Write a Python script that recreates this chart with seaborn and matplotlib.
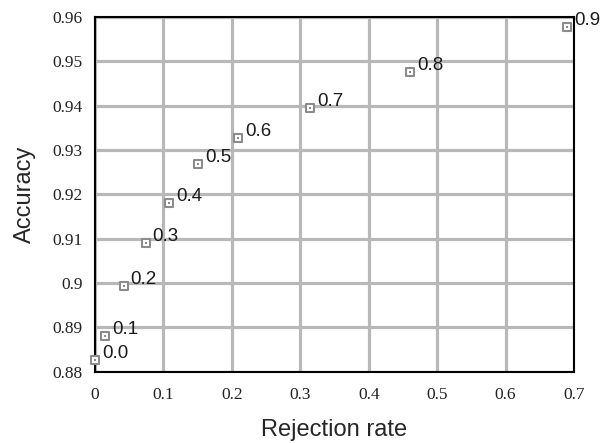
import numpy as np
import pandas as pd
import matplotlib
matplotlib.use('Agg')
import matplotlib.pyplot as plt
import seaborn as sns

# values
thresholds = ["0.0", "0.1", "0.2", "0.3", "0.4", "0.5", "0.6", "0.7", "0.8", "0.9"]
rejection_rate = [0.0, 0.015, 0.042, 0.074, 0.108, 0.151, 0.209, 0.314, 0.460, 0.690]
accuracy = [0.8825, 0.8881, 0.8992, 0.9089, 0.9180, 0.9268, 0.9327, 0.9395, 0.9475, 0.9578]
x_ticks = [0, 0.1, 0.2, 0.3, 0.4, 0.5, 0.6, 0.7]
x_ticklabels = ["0", "0.1", "0.2", "0.3", "0.4", "0.5", "0.6", "0.7"]
y_ticks = [0.88, 0.89, 0.90, 0.91, 0.92, 0.93, 0.94, 0.95, 0.96]
y_ticklabels = ["0.88", "0.89", "0.9", "0.91", "0.92", "0.93", "0.94", "0.95", "0.96"]

df = pd.DataFrame({"rate": rejection_rate, "acc": accuracy, "thr": thresholds})

sns.set_style("white")
fig = plt.figure(figsize=(6.03, 4.43), dpi=100)
ax = fig.add_axes([95 / 603, 1 - 371.5 / 443, 479 / 603, 354.5 / 443])

# hollow grey squares with a small dot in the middle
sns.scatterplot(data=df, x="rate", y="acc", marker="s", s=40,
                facecolor="white", edgecolor="#8c8c8c", linewidth=1.5,
                ax=ax, zorder=3, clip_on=False)
sns.scatterplot(data=df, x="rate", y="acc", marker="s", s=2,
                color="#8c8c8c", linewidth=0, ax=ax, zorder=4, clip_on=False)

for _, row in df.iterrows():
    ax.annotate(row["thr"], (row["rate"], row["acc"]), xytext=(7, 2),
                textcoords="offset pixels", ha="left", va="baseline",
                fontsize=13.5, family="Liberation Sans", color="#1a1a1a")

ax.set_xlim(0, 0.7)
ax.set_ylim(0.88, 0.96)
ax.set_xticks(x_ticks)
ax.set_xticklabels(x_ticklabels)
ax.set_yticks(y_ticks)
ax.set_yticklabels(y_ticklabels)
for lbl in ax.get_xticklabels() + ax.get_yticklabels():
    lbl.set_family("Liberation Serif")
    lbl.set_fontsize(12.5)
    lbl.set_color("#222222")
ax.tick_params(axis="both", length=0)
ax.tick_params(axis="x", pad=11)
ax.tick_params(axis="y", pad=9)

ax.grid(True, color="#b8b8b8", linewidth=2.3)
ax.set_axisbelow(True)
for sp in ax.spines.values():
    sp.set_color("black")
    sp.set_linewidth(1.5)

ax.set_xlabel("Rejection rate", fontsize=17, family="Liberation Sans",
              labelpad=12)
ax.set_ylabel("Accuracy", fontsize=17, family="Liberation Sans",
              labelpad=12)

fig.savefig("out.png", dpi=100)
